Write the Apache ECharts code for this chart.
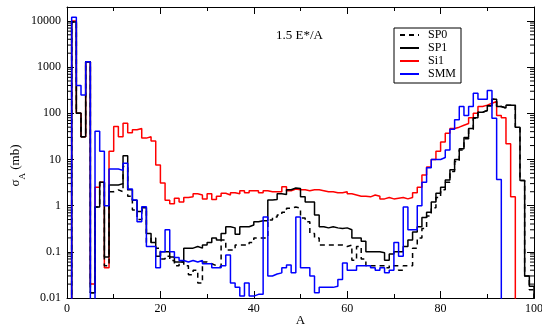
<!DOCTYPE html>
<html>
<head>
<meta charset="utf-8">
<script src="https://cdn.jsdelivr.net/npm/echarts@6/dist/echarts.min.js"></script>
<style>html,body{margin:0;padding:0;background:#fff}#c{width:542px;height:325px}</style>
</head>
<body>
<div id="c"></div>
<script>
// Values indexed by mass number A = 0..100 ; 0.001 means "below the axis" (off scale)
var SP0 = [0.001,9500,100,31,1300,0.013,0.93,3.2,0.05,2.0,
  2.2,2.0,7,1.6,0.8,0.5,0.8,0.16,0.2,0.12,
  0.07,0.08,0.065,0.05,0.06,0.05,0.032,0.04,0.021,0.06,
  0.055,0.05,0.047,0.18,0.11,0.11,0.14,0.14,0.14,0.16,
  0.2,0.2,0.2,0.49,0.57,0.63,0.72,0.88,0.93,0.88,
  0.54,0.45,0.25,0.2,0.14,0.14,0.14,0.14,0.14,0.13,
  0.14,0.066,0.13,0.07,0.05,0.05,0.05,0.05,0.045,0.05,
  0.05,0.04,0.05,0.05,0.12,0.2,0.32,0.6,0.9,1.5,
  2.2,3.2,5.5,9,16,28,45,78,105,115,
  145,200,140,130,150,150,50,3.5,0.03,0.015,0.001];
var SP1 = [0.001,9500,100,31,1300,0.013,0.93,3.2,0.077,2.8,
  2.8,3.0,12,2.2,1.3,0.75,0.9,0.25,0.16,0.08,
  0.1,0.1,0.077,0.06,0.06,0.12,0.12,0.13,0.12,0.14,
  0.16,0.2,0.18,0.25,0.35,0.33,0.24,0.35,0.35,0.38,
  0.45,0.47,0.47,1.33,1.35,1.8,1.75,2.2,2.4,2.35,
  1.55,1.2,1.2,0.63,0.35,0.33,0.35,0.33,0.32,0.33,
  0.3,0.2,0.2,0.17,0.1,0.1,0.1,0.095,0.066,0.09,
  0.1,0.1,0.13,0.18,0.27,0.35,0.55,0.72,1.2,1.85,
  2.5,3.6,6,10,17,30,47,80,105,115,
  145,200,140,130,150,150,50,3.5,0.03,0.018,0.001];
var Si1 = [0.001,10000,100,31,1300,0.02,2.5,3.2,0.045,15,
  52,31,61,38,44,47,29,31,25,7.6,
  3.1,1.3,1.1,1.45,1.2,1.5,1.55,1.8,1.7,1.4,
  1.8,1.35,1.6,1.85,1.7,1.9,1.8,2.1,1.9,2.1,
  2.1,1.9,2.1,2.0,2.0,2.0,2.55,2.1,2.3,2.2,
  2.2,2.1,2.2,2.2,2.1,2.0,2.0,1.9,1.9,2.0,
  1.8,1.7,1.6,1.6,1.55,1.7,1.6,1.4,1.5,1.4,
  1.45,1.5,1.4,1.5,1.9,2.5,4.6,6.9,10,15,
  24,37,47,50,55,60,80,100,140,150,
  165,180,90,80,22,1.55,0.001,0.001,0.001,0.001,0.001];
var SMM = [0.001,12000,400,250,1300,0.001,41,15,1.0,6.2,
  6.2,5.8,8.3,2.3,1.33,0.45,0.95,0.13,0.13,0.045,
  0.1,0.3,0.1,0.075,0.065,0.06,0.065,0.06,0.065,0.055,
  0.055,0.045,0.045,0.05,0.085,0.021,0.017,0.011,0.021,0.011,
  0.012,0.012,0.57,0.03,0.033,0.035,0.045,0.052,0.035,0.57,
  0.045,0.045,0.03,0.013,0.017,0.017,0.017,0.018,0.025,0.057,
  0.04,0.04,0.05,0.05,0.05,0.045,0.04,0.045,0.035,0.04,
  0.16,0.08,0.93,0.3,0.3,1.0,3.2,6.6,10,10,
  11,16,45,72,140,90,140,270,200,200,
  310,78,3.7,0.001,0.001,0.001,0.001,0.001,0.001,0.001,0.001];
var xTicks = [0, 20, 40, 60, 80, 100];
var yDecades = [0.01, 0.1, 1, 10, 100, 1000, 10000];
var yMax = 20000;

function pairs(vals){ return vals.map(function(v, a){ return [a, v]; }); }

// minor log ticks (2..9 per decade)
var minor = [];
yDecades.forEach(function(d){ for (var m = 2; m <= 9; m++){ var v = +(m*d).toPrecision(3); if (v < yMax) minor.push([0, v]); } });

var serif = 'Liberation Serif';
var chart = echarts.init(document.getElementById('c'), null, {renderer: 'canvas'});
var tickCommon = {show: true, inside: true, length: 7, lineStyle: {color: '#000', width: 1}};
var lineW = 1.5;
chart.setOption({
  animation: false,
  backgroundColor: '#fff',
  grid: {left: 67, right: 8, top: 7, bottom: 27, containLabel: false, outerBoundsMode: 'none'},
  legend: {
    data: ['SP0', 'SP1', 'Si1', 'SMM'],
    orient: 'vertical', left: 394, top: 28,
    borderColor: '#000', borderWidth: 1, borderRadius: 0,
    padding: [1, 5, 3, 5],
    itemWidth: 19, itemHeight: 10, itemGap: 1,
    itemStyle: {opacity: 0, borderWidth: 0},
    textStyle: {fontFamily: serif, fontSize: 12, color: '#000', lineHeight: 12, padding: [0, 0, 0, 4]}
  },
  graphic: [{type: 'text', left: 276, top: 29, style: {text: '1.5 E*/A', font: '13px "Liberation Serif"', fill: '#000'}}],
  xAxis: [{
    type: 'value', min: 0, max: 100, interval: 20,
    name: 'A', nameLocation: 'middle', nameGap: 16, nameMoveOverlap: false,
    nameTextStyle: {fontFamily: serif, fontSize: 13, color: '#000'},
    axisLine: {show: true, onZero: false, lineStyle: {color: '#000', width: 1}},
    axisTick: tickCommon,
    minorTick: {show: true, splitNumber: 2, length: 4, lineStyle: {color: '#000', width: 1}},
    axisLabel: {fontFamily: serif, fontSize: 12, color: '#000', margin: 5},
    splitLine: {show: false}
  }, {
    type: 'value', min: 0, max: 100, interval: 20, position: 'top',
    axisLine: {show: true, onZero: false, lineStyle: {color: '#000', width: 1}},
    axisTick: tickCommon,
    minorTick: {show: true, splitNumber: 2, length: 4, lineStyle: {color: '#000', width: 1}},
    axisLabel: {show: false}, splitLine: {show: false}
  }],
  yAxis: [{
    type: 'log', logBase: 10, min: 0.01, max: yMax,
    name: '{s|σ}{sub|A}{s| (mb)}', nameLocation: 'middle', nameGap: 40, nameRotate: 90, nameMoveOverlap: false,
    nameTextStyle: {padding: [0, 26, 0, 0], rich: {
      s: {fontFamily: serif, fontSize: 13, color: '#000', lineHeight: 18},
      sub: {fontFamily: serif, fontSize: 9, color: '#000', lineHeight: 22, verticalAlign: 'bottom'}
    }},
    axisLine: {show: true, onZero: false, lineStyle: {color: '#000', width: 1}},
    axisTick: tickCommon,
    axisLabel: {fontFamily: serif, fontSize: 12, color: '#000', margin: 6,
      formatter: function(v){ var l = Math.log10(v); if (Math.abs(l - Math.round(l)) > 1e-6) return ''; return String(+(+v).toPrecision(3)); }},
    splitLine: {show: false}
  }, {
    type: 'log', logBase: 10, min: 0.01, max: yMax, position: 'right',
    axisLine: {show: true, onZero: false, lineStyle: {color: '#000', width: 1}},
    axisTick: tickCommon,
    axisLabel: {show: false}, splitLine: {show: false}
  }],
  series: [
    {name: 'Si1', type: 'line', step: 'end', data: pairs(Si1), symbol: 'none', clip: true,
     lineStyle: {color: '#ff0000', width: lineW}, itemStyle: {color: '#ff0000'}, z: 2},
    {name: 'SP0', type: 'line', step: 'end', data: pairs(SP0), symbol: 'none', clip: true,
     lineStyle: {color: '#000', width: lineW, type: [5, 4]}, itemStyle: {color: '#000'}, z: 3},
    {name: 'SP1', type: 'line', step: 'end', data: pairs(SP1), symbol: 'none', clip: true,
     lineStyle: {color: '#000', width: lineW}, itemStyle: {color: '#000'}, z: 4},
    {name: 'SMM', type: 'line', step: 'end', data: pairs(SMM), symbol: 'none', clip: true,
     lineStyle: {color: '#0000ff', width: lineW}, itemStyle: {color: '#0000ff'}, z: 5},
    {name: 'minorTicks', type: 'custom', data: minor, silent: true, clip: false, z: 6,
     encode: {x: 0, y: 1},
     renderItem: function(params, api){
       var v = api.value(1);
       var p = api.coord([0, v]);
       var q = api.coord([100, v]);
       return {type: 'group', children: [
         {type: 'line', shape: {x1: p[0], y1: p[1], x2: p[0] + 4, y2: p[1]}, style: {stroke: '#000', lineWidth: 1}},
         {type: 'line', shape: {x1: q[0], y1: q[1], x2: q[0] - 4, y2: q[1]}, style: {stroke: '#000', lineWidth: 1}}
       ]};
     }}
  ]
});
</script>
</body>
</html>
